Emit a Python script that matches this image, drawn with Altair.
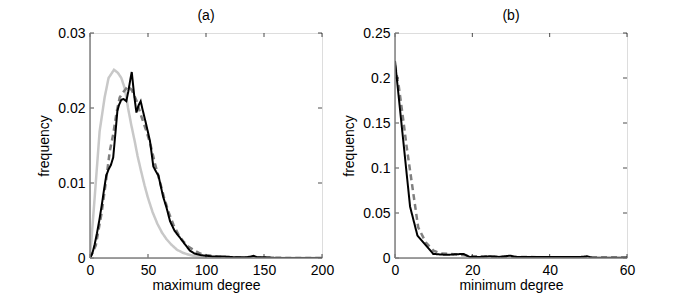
import altair as alt
import pandas as pd

# ---------------- panel (a): maximum degree ----------------
a_black_x = [0, 2, 4, 6, 8, 10, 12, 14, 16, 18, 20, 22, 23.6, 25, 27, 29, 31.3, 33, 35, 36,
             38, 40, 42, 43.7, 45, 48.6, 51.7, 54.6, 57, 59, 63, 66, 69, 73, 77.6, 82, 86,
             90, 95, 100, 106, 115, 125, 135, 139, 141, 144, 150, 160, 170, 200]
a_black_y = [0, 0.0006, 0.0018, 0.0033, 0.0050, 0.0069, 0.0090, 0.0110, 0.0118, 0.0124,
             0.0134, 0.0168, 0.0196, 0.0204, 0.0211, 0.0212, 0.0209, 0.0222, 0.0240, 0.0248,
             0.0218, 0.0194, 0.0204, 0.0209, 0.0200, 0.0177, 0.0156, 0.0122, 0.0115, 0.0110,
             0.0082, 0.0067, 0.0049, 0.0036, 0.0027, 0.0018, 0.0010,
             0.0006, 0.0004, 0.0003, 0.0002, 0.0002, 0.0001, 0.0001, 0.0002, 0.0003, 0.0001,
             0.0001, 0.0000, 0.0000, 0.0000]

a_dash_x = [0, 5, 10, 14, 17, 20, 23, 25.6, 28, 32.8, 36, 40, 44, 48, 52, 56, 60, 64, 68,
            72, 76, 80, 85, 90, 95, 100, 110, 120, 140, 160, 200]
a_dash_y = [0, 0.0017, 0.0060, 0.0105, 0.0142, 0.0165, 0.0195, 0.0214, 0.0220, 0.0229,
            0.0224, 0.0210, 0.0190, 0.0172, 0.0152, 0.0126, 0.0103, 0.0080, 0.0060,
            0.0044, 0.0032, 0.0023, 0.0015, 0.0010, 0.0006, 0.0004, 0.0002, 0.0001,
            0.00005, 0.00002, 0.0]

a_light_x = [0, 1.1, 4, 8.3, 12.6, 16, 20.7, 24, 27, 30, 32.8, 35.5, 38.5, 41, 44, 47, 50,
             54, 58, 62, 66, 70, 75, 80, 86, 92, 100, 110, 200]
a_light_y = [0.0005, 0.0022, 0.0080, 0.0169, 0.0214, 0.0240, 0.0251, 0.0247, 0.0240,
             0.0226, 0.0200, 0.0178, 0.0156, 0.0136, 0.0116, 0.0097, 0.0080, 0.0061,
             0.0046, 0.0034, 0.0025, 0.0018, 0.0011, 0.0007, 0.0004, 0.0002, 0.0001,
             0.0, 0.0]

a_xticks = [0, 50, 100, 150, 200]
a_yticks = [0, 0.01, 0.02, 0.03]

# ---------------- panel (b): minimum degree ----------------
b_black_x = [0, 2, 3.9, 5.8, 8, 9.9, 12.5, 14.2, 16, 17.7, 19.4, 22, 24.6, 27, 29.8, 31.5,
             35, 40, 45, 48, 49.7, 51, 55, 60]
b_black_y = [0.219, 0.136, 0.057, 0.025, 0.014, 0.0045, 0.0037, 0.0037, 0.0042, 0.0045,
             0.0010, 0.0012, 0.0019, 0.0012, 0.0026, 0.0010, 0.0010, 0.0010, 0.0010,
             0.0012, 0.0019, 0.0004, 0.0003, 0.0003]

b_dash_x = [0, 1, 2, 3, 4.7, 6, 8, 10, 12, 16, 18, 20, 25, 30, 40, 50, 60]
b_dash_y = [0.214, 0.190, 0.158, 0.124, 0.073, 0.034, 0.017, 0.008, 0.005, 0.004, 0.003,
            0.002, 0.0015, 0.0012, 0.0008, 0.0006, 0.0005]

b_xticks = [0, 20, 40, 60]
b_yticks = [0, 0.05, 0.1, 0.15, 0.2, 0.25]

W, H = 232, 225
FONT = "Liberation Sans"
FS = 14


def series(xs, ys, name):
    return pd.DataFrame({"x": xs, "y": ys, "s": name})


def panel(title, xtitle, xdom, ydom, xticks, yticks, lines):
    xs = alt.Scale(domain=xdom, nice=False, zero=False)
    ys = alt.Scale(domain=ydom, nice=False, zero=False)
    xaxis = alt.Axis(values=xticks, title=xtitle, ticks=False, grid=False, format="~r",
                     domain=False, labelPadding=5, titlePadding=1,
                     labelFontSize=FS, titleFontSize=FS, labelFont=FONT, titleFont=FONT,
                     titleFontWeight="normal", labelColor="black", titleColor="black",
                     labelFlush=False, labelOverlap=False)
    yaxis = alt.Axis(values=yticks, title="frequency", ticks=False, grid=False, format="~r",
                     domain=False, labelPadding=5, titlePadding=6,
                     labelFontSize=FS, titleFontSize=FS, labelFont=FONT, titleFont=FONT,
                     titleFontWeight="normal", labelColor="black", titleColor="black",
                     labelFlush=False, labelOverlap=False)
    layers = []
    for df, color, width, dash in lines:
        enc = dict(x=alt.X("x:Q", scale=xs, axis=xaxis), y=alt.Y("y:Q", scale=ys, axis=yaxis))
        mk = alt.Chart(df).mark_line(color=color, strokeWidth=width, strokeDash=dash,
                                     clip=True)
        layers.append(mk.encode(**enc))
    xt = pd.DataFrame({"x": xticks})
    yt = pd.DataFrame({"y": yticks})
    for yv in [H - 2, 2]:
        layers.append(alt.Chart(xt).mark_tick(color="black", size=4, thickness=1,
                                              orient="vertical")
                      .encode(x=alt.X("x:Q", scale=xs), y=alt.value(yv)))
    for xv in [2, W - 2]:
        layers.append(alt.Chart(yt).mark_tick(color="black", size=4, thickness=1,
                                              orient="horizontal")
                      .encode(y=alt.Y("y:Q", scale=ys), x=alt.value(xv)))
    # gray left / bottom frame lines as in the original
    layers.append(alt.Chart(pd.DataFrame({"x": [xdom[0]]})).mark_rule(color="#808080", strokeWidth=1.5)
                  .encode(x=alt.X("x:Q", scale=xs)))
    layers.append(alt.Chart(pd.DataFrame({"y": [ydom[0]]})).mark_rule(color="#808080", strokeWidth=1.5)
                  .encode(y=alt.Y("y:Q", scale=ys)))
    return alt.layer(*layers).properties(
        width=W, height=H,
        title=alt.Title(title, fontSize=FS, fontWeight="normal", font=FONT, offset=3,
                        color="black"))


left = panel("(a)", "maximum degree", [0, 200], [0, 0.03], a_xticks, a_yticks, [
    (series(a_light_x, a_light_y, "light"), "#c8c8c8", 2.5, [1, 0]),
    (series(a_dash_x, a_dash_y, "dash"), "#808080", 2.5, [6, 4]),
    (series(a_black_x, a_black_y, "black"), "#000000", 2, [1, 0]),
])
right = panel("(b)", "minimum degree", [0, 60], [0, 0.25], b_xticks, b_yticks, [
    (series(b_dash_x, b_dash_y, "dash"), "#808080", 2.5, [6, 4]),
    (series(b_black_x, b_black_y, "black"), "#000000", 2, [1, 0]),
])

chart = alt.hconcat(left, right, spacing=7).properties(
    padding={"left": 29, "top": 0, "right": 5, "bottom": 0}
).configure_view(stroke="black", strokeWidth=1).configure(background="white")

chart.save("out.html", embed_options={"renderer": "svg", "actions": False})
